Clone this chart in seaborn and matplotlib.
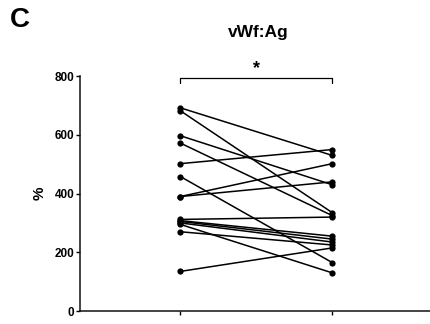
import pandas as pd
import matplotlib
matplotlib.use("Agg")
import matplotlib.pyplot as plt
import seaborn as sns

# paired vWf:Ag values (%) per subject, before -> after
before = [692, 682, 597, 572, 502, 458, 390, 390, 312, 308, 305, 300, 295, 270, 135]
after = [530, 335, 430, 325, 550, 165, 502, 440, 320, 255, 245, 235, 130, 225, 215]
y_ticks = [0, 200, 400, 600, 800]

rows = []
for i, (b, a) in enumerate(zip(before, after)):
    rows.append({'subject': i, 'time': 0, 'value': b})
    rows.append({'subject': i, 'time': 1, 'value': a})
df = pd.DataFrame(rows)

sns.set_style('ticks')
plt.rcParams['font.family'] = ['Liberation Sans', 'DejaVu Sans']
plt.rcParams['font.weight'] = 'bold'
plt.rcParams['text.color'] = 'black'
plt.rcParams['axes.labelcolor'] = 'black'
plt.rcParams['xtick.color'] = 'black'
plt.rcParams['ytick.color'] = 'black'

fig = plt.figure(figsize=(4.31, 3.24), dpi=100)
ax = fig.add_axes([0.186, 0.040, 0.814, 0.725])

sns.lineplot(data=df, x='time', y='value', units='subject', estimator=None,
             color='black', marker='o', markersize=4.5, markeredgewidth=0,
             linewidth=1.1, ax=ax, legend=False)

ax.set_xlim(-0.66, 1.65)
ax.set_ylim(0, 800)
ax.set_yticks(y_ticks)
ax.set_xticks([0, 1])
ax.set_xticklabels(['', ''])
ax.set_xlabel('')
ax.set_ylabel('%', fontsize=11, fontweight='bold', labelpad=6)
ax.tick_params(axis='y', labelsize=8.5, length=3, width=1, pad=1)
ax.tick_params(axis='x', length=3, width=1)
for lab in ax.get_yticklabels():
    lab.set_fontweight('bold')
sns.despine(ax=ax)
for s in ['left', 'bottom']:
    ax.spines[s].set_linewidth(1.1)
    ax.spines[s].set_color('#111111')

# significance bracket
ax.plot([0, 0, 1, 1], [778, 792, 792, 778], color='black', lw=0.9, clip_on=False)
ax.text(0.5, 798, '*', ha='center', va='bottom', fontsize=13, fontweight='bold')

fig.text(0.600, 0.900, 'vWf:Ag', ha='center', va='center', fontsize=12.5, fontweight='bold')
fig.text(0.024, 0.938, 'C', ha='left', va='center', fontsize=20, fontweight='bold')

fig.savefig('out.png', dpi=100)
